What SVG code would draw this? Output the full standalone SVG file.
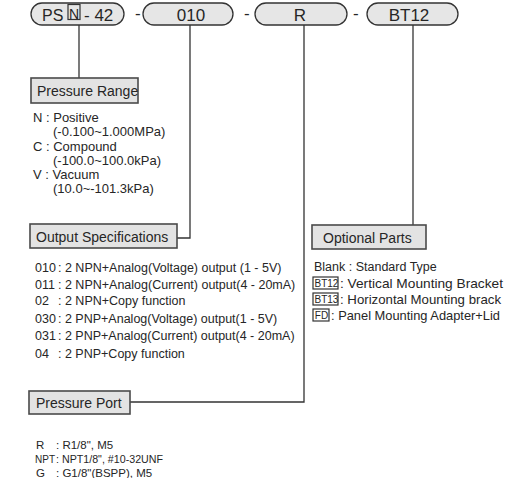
<svg xmlns="http://www.w3.org/2000/svg" width="506" height="478" viewBox="0 0 506 478">
<style>
text{font-family:"Liberation Sans",Arial,sans-serif;fill:#262626}
.pill{fill:#e6e6e6;stroke:#333;stroke-width:1.3}
.pt{font-size:17px}
.box{fill:#e3e3e3;stroke:#4a4a4a;stroke-width:1.6}
.bt{font-size:14px}
.t{font-size:13px}
.o{font-size:12.5px}
.q{font-size:13px}
.k{font-size:10px}
.p{font-size:11.5px}
.tag{fill:none;stroke:#333;stroke-width:1.2}
.ln{fill:none;stroke:#333;stroke-width:1.3}
</style>
<rect width="506" height="478" fill="#fff"/>
<g id="connectors">
<path class="ln" d="M79 25V78"/>
<path class="ln" d="M190 25V238H177"/>
<path class="ln" d="M304 25V402H130"/>
<path class="ln" d="M413 25V225"/>
</g>
<g id="code">
<rect class="pill" x="31" y="3" width="93" height="22" rx="11"/>
<text class="pt" x="42" y="20.5" style="font-size:16px">PS</text>
<rect class="tag" x="68" y="4.5" width="12" height="15"/>
<text class="pt" x="74" y="19" text-anchor="middle" style="font-size:14px">N</text>
<text class="pt" x="84" y="20.5">- 42</text>
<text class="pt" x="135" y="19">-</text>
<rect class="pill" x="143" y="3" width="90" height="22" rx="11"/>
<text class="pt" x="191" y="20.5" text-anchor="middle">010</text>
<text class="pt" x="244" y="19">-</text>
<rect class="pill" x="255" y="3" width="92" height="22" rx="11"/>
<text class="pt" x="300" y="20.5" text-anchor="middle">R</text>
<text class="pt" x="353" y="19">-</text>
<rect class="pill" x="367" y="3" width="91" height="22" rx="11"/>
<text class="pt" x="409" y="20.5" text-anchor="middle">BT12</text>
</g>
<g id="pressure-range">
<rect class="box" x="31" y="78" width="107" height="25"/>
<text class="bt" x="37" y="95.5">Pressure Range</text>
<text class="t" x="33" y="122">N : Positive</text>
<text class="t" x="53" y="136">(-0.100~1.000MPa)</text>
<text class="t" x="33" y="150.5">C : Compound</text>
<text class="t" x="53" y="164.5">(-100.0~100.0kPa)</text>
<text class="t" x="33" y="179">V : Vacuum</text>
<text class="t" x="53" y="193">(10.0~-101.3kPa)</text>
</g>
<g id="output-specifications">
<rect class="box" x="30" y="224" width="147" height="24"/>
<text class="bt" x="36" y="241.5">Output Specifications</text>
<text class="o" x="35" y="272">010</text><text class="o" x="58" y="272">: 2 NPN+Analog(Voltage) output (1 - 5V)</text>
<text class="o" x="35" y="288.5">011</text><text class="o" x="58" y="288.5">: 2 NPN+Analog(Current) output(4 - 20mA)</text>
<text class="o" x="35" y="305">02</text><text class="o" x="58" y="305">: 2 NPN+Copy function</text>
<text class="o" x="35" y="322.5">030</text><text class="o" x="58" y="322.5">: 2 PNP+Analog(Voltage) output(1 - 5V)</text>
<text class="o" x="35" y="340">031</text><text class="o" x="58" y="340">: 2 PNP+Analog(Current) output(4 - 20mA)</text>
<text class="o" x="35" y="357.5">04</text><text class="o" x="58" y="357.5">: 2 PNP+Copy function</text>
</g>
<g id="optional-parts">
<rect class="box" x="312" y="225" width="114" height="24"/>
<text class="bt" x="323" y="242.5">Optional Parts</text>
<text class="o" x="314" y="270.5">Blank : Standard Type</text>
<rect class="tag" x="313" y="277" width="25" height="12"/>
<text class="k" x="314.5" y="286.8">BT12</text>
<text class="q" x="340" y="287.5" textLength="163" lengthAdjust="spacingAndGlyphs">: Vertical Mounting Bracket</text>
<rect class="tag" x="313" y="293" width="25" height="12"/>
<text class="k" x="314.5" y="302.8">BT13</text>
<text class="q" x="340" y="303.5" textLength="161" lengthAdjust="spacingAndGlyphs">: Horizontal Mounting brack</text>
<rect class="tag" x="313" y="309" width="16" height="12"/>
<text class="k" x="314.8" y="318.8">FD</text>
<text class="q" x="331" y="319.5" textLength="169" lengthAdjust="spacingAndGlyphs">: Panel Mounting Adapter+Lid</text>
</g>
<g id="pressure-port">
<rect class="box" x="29" y="391" width="101" height="23"/>
<text class="bt" x="36" y="408">Pressure Port</text>
<text class="p" x="36" y="448.5">R</text><text class="p" x="56" y="448.5">: R1/8", M5</text>
<text class="p" x="35" y="463" style="font-size:10px">NPT</text><text class="p" x="56" y="463" textLength="107" lengthAdjust="spacingAndGlyphs">: NPT1/8", #10-32UNF</text>
<text class="p" x="36" y="477">G</text><text class="p" x="56" y="477">: G1/8"(BSPP), M5</text>
</g>
</svg>
